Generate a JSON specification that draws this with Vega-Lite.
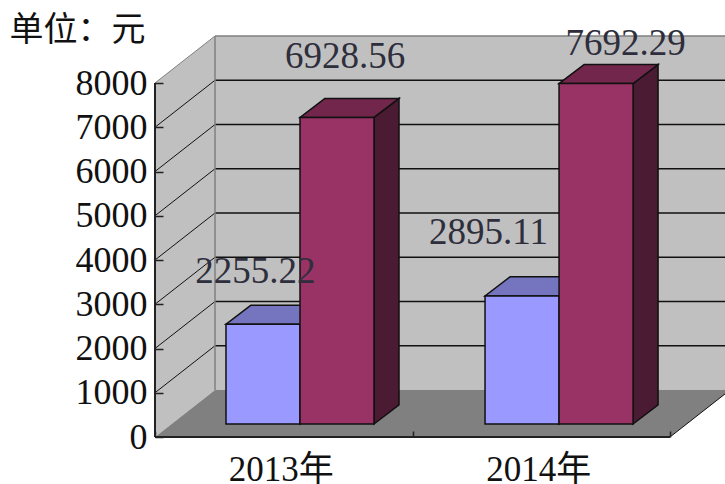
{
"$schema":"https://vega.github.io/schema/vega-lite/v6.json",
"width":725,"height":484,"padding":0,"autosize":{"type":"none"},
"background":"white",
"config":{"view":{"stroke":null},"text":{"font":"Liberation Serif","fontSize":37,"color":"#2E2E3C"}},
"datasets":{
"bars":[
{"cat":0,"s":0,"year":"2013年","series":"A","value":2255.22},
{"cat":0,"s":1,"year":"2013年","series":"B","value":6928.56},
{"cat":1,"s":0,"year":"2014年","series":"A","value":2895.11},
{"cat":1,"s":1,"year":"2014年","series":"B","value":7692.29}],
"grid":[{"v":1000},{"v":2000},{"v":3000},{"v":4000},{"v":5000},{"v":6000},{"v":7000}],
"one":[{"name":"wall"}]
},
"encoding":{
"x":{"field":"x","type":"quantitative","scale":{"domain":[-0.60194,2.21359],"nice":false,"zero":false},
"axis":{"title":null,"orient":"bottom","offset":-47,"zindex":1,"domain":false,"grid":false,"values":[0,0.5,1,1.5,2],
"labelExpr":"datum.value==0.5?'2013年':datum.value==1.5?'2014年':''","labelFont":"Liberation Serif, Noto Sans CJK SC","labelFontSize":35,"labelColor":"#111111","labelPadding":21,"labelOffset":-3,"labelOverlap":false,"labelFlush":false,
"tickSize":-6,"tickColor":"#222222","tickWidth":1.5,"tickOpacity":{"condition":{"test":"datum.value==0.5||datum.value==1.5","value":0},"value":1}}},
"y":{"field":"y","type":"quantitative","scale":{"domain":[-1062,9876],"nice":false,"zero":false},
"axis":{"orient":"left","offset":-155,"zindex":1,"domain":false,"grid":false,"values":[0,1000,2000,3000,4000,5000,6000,7000,8000],"format":"d",
"labelFont":"Liberation Serif","labelFontSize":36,"labelColor":"#111111","labelPadding":16,
"tickSize":-8,"tickColor":"#222222","tickWidth":1.5,
"title":"单位：元","titleFont":"Noto Sans CJK SC","titleFontSize":34,"titleFontWeight":"normal","titleColor":"#111111","titleAngle":0,"titleX":-146,"titleY":30,"titleAlign":"left","titleBaseline":"middle"}}
},
"layer":[
{"data":{"name":"one"},"transform":[{"calculate":"0.233","as":"x"},{"calculate":"2.233","as":"x2"},{"calculate":"1062","as":"y"},{"calculate":"9062","as":"y2"}],
 "mark":{"type":"rect","fill":"#C0C0C0","clip":true},"encoding":{"x2":{"field":"x2"},"y2":{"field":"y2"}}},
{"data":{"name":"one"},"transform":[{"calculate":"0","as":"t0"},{"calculate":"1","as":"t1"},{"fold":["t0","t1"],"as":["k","t"]},{"calculate":"datum.t*0.233","as":"x"},{"calculate":"datum.t*1062","as":"y"},{"calculate":"8000+datum.t*1062","as":"y2"}],
 "mark":{"type":"area","fill":"#C0C0C0"},"encoding":{"y2":{"field":"y2"}}},
{"data":{"name":"grid"},"transform":[{"calculate":"0.233","as":"x"},{"calculate":"2.233","as":"x2"},{"calculate":"datum.v+1062","as":"y"}],
 "mark":{"type":"rule","stroke":"#111111","strokeWidth":1.5},"encoding":{"x2":{"field":"x2"}}},
{"data":{"name":"grid"},"transform":[{"calculate":"0","as":"x"},{"calculate":"0.233","as":"x2"},{"calculate":"datum.v","as":"y"},{"calculate":"datum.v+1062","as":"y2"}],
 "mark":{"type":"rule","stroke":"#111111","strokeWidth":1},"encoding":{"x2":{"field":"x2"},"y2":{"field":"y2"}}},
{"data":{"name":"one"},"transform":[{"calculate":"0.233","as":"x"},{"calculate":"0.233","as":"x2"},{"calculate":"1062","as":"y"},{"calculate":"9062","as":"y2"}],
 "mark":{"type":"rule","stroke":"#808080","strokeWidth":1.5},"encoding":{"x2":{"field":"x2"},"y2":{"field":"y2"}}},
{"data":{"name":"one"},"transform":[{"calculate":"0.233","as":"x"},{"calculate":"2.233","as":"x2"},{"calculate":"9062","as":"y"}],
 "mark":{"type":"rule","stroke":"#808080","strokeWidth":1.5},"encoding":{"x2":{"field":"x2"}}},
{"data":{"name":"one"},"transform":[{"calculate":"0","as":"x"},{"calculate":"0.233","as":"x2"},{"calculate":"8000","as":"y"},{"calculate":"9062","as":"y2"}],
 "mark":{"type":"rule","stroke":"#808080","strokeWidth":1},"encoding":{"x2":{"field":"x2"},"y2":{"field":"y2"}}},
{"data":{"name":"one"},"transform":[{"calculate":"0","as":"t0"},{"calculate":"1","as":"t1"},{"fold":["t0","t1"],"as":["k","t"]},{"calculate":"datum.t*0.233","as":"x"},{"calculate":"2+datum.t*0.233","as":"x2"},{"calculate":"datum.t*1062","as":"y"}],
 "mark":{"type":"area","orient":"horizontal","fill":"#808080"},"encoding":{"x2":{"field":"x2"}}},
{"data":{"name":"one"},"transform":[{"calculate":"2","as":"x"},{"calculate":"2.233","as":"x2"},{"calculate":"0","as":"y"},{"calculate":"1062","as":"y2"}],
 "mark":{"type":"rule","stroke":"#111111","strokeWidth":1},"encoding":{"x2":{"field":"x2"},"y2":{"field":"y2"}}},
{"data":{"name":"one"},"transform":[{"calculate":"0","as":"x"},{"calculate":"2","as":"x2"},{"calculate":"0","as":"y"}],
 "mark":{"type":"rule","stroke":"#222222","strokeWidth":2},"encoding":{"x2":{"field":"x2"}}},
{"data":{"name":"one"},"transform":[{"calculate":"0","as":"x"},{"calculate":"0","as":"y"},{"calculate":"8000","as":"y2"}],
 "mark":{"type":"rule","stroke":"#222222","strokeWidth":2},"encoding":{"y2":{"field":"y2"}}},
{"data":{"name":"bars"},"transform":[{"calculate":"0","as":"t0"},{"calculate":"1","as":"t1"},{"fold":["t0","t1"],"as":["k","t"]},
 {"calculate":"datum.cat*1.006+0.2757+(datum.s+1)*0.2874+datum.t*0.0971","as":"x"},{"calculate":"294+datum.t*430","as":"y"},{"calculate":"datum.value+294+datum.t*430","as":"y2"},{"calculate":"datum.series+'-side'","as":"face"}],
 "mark":{"type":"area","stroke":"#111111","strokeWidth":1.5},
 "encoding":{"y2":{"field":"y2"},"detail":{"field":"year"},"fill":{"field":"face","scale":{"domain":["A-front","A-top","A-side","B-front","B-top","B-side"],"range":["#9999FF","#7575BF","#4C4C80","#993366","#72264C","#4B1A33"]},"legend":null}}},
{"data":{"name":"bars"},"transform":[{"calculate":"0","as":"t0"},{"calculate":"1","as":"t1"},{"fold":["t0","t1"],"as":["k","t"]},
 {"calculate":"datum.cat*1.006+0.2757+datum.s*0.2874+datum.t*0.0971","as":"x"},{"calculate":"datum.x+0.2874","as":"x2"},{"calculate":"datum.value+294+datum.t*430","as":"y"},{"calculate":"datum.series+'-top'","as":"face"}],
 "mark":{"type":"area","orient":"horizontal","stroke":"#111111","strokeWidth":1.5},
 "encoding":{"x2":{"field":"x2"},"detail":{"field":"year"},"fill":{"field":"face","legend":null}}},
{"data":{"name":"bars"},"transform":[
 {"calculate":"datum.cat*1.006+0.2757+datum.s*0.2874","as":"x"},{"calculate":"datum.x+0.2874","as":"x2"},{"calculate":"294","as":"y"},{"calculate":"datum.value+294","as":"y2"},{"calculate":"datum.series+'-front'","as":"face"}],
 "mark":{"type":"rect","stroke":"#111111","strokeWidth":1.5},
 "encoding":{"x2":{"field":"x2"},"y2":{"field":"y2"},"fill":{"field":"face","legend":null}}},
{"data":{"name":"bars"},"transform":[{"filter":"datum.cat==0&&datum.s==0"},{"calculate":"datum.cat+0.4194+datum.s*0.2874","as":"x"},{"calculate":"datum.value+294","as":"y"}],
 "mark":{"type":"text","dx":-7.5,"dy":-52,"baseline":"middle","align":"center"},"encoding":{"text":{"field":"value","format":".2f"}}},
{"data":{"name":"bars"},"transform":[{"filter":"datum.cat==0&&datum.s==1"},{"calculate":"datum.cat+0.4194+datum.s*0.2874","as":"x"},{"calculate":"datum.value+294","as":"y"}],
 "mark":{"type":"text","dx":8,"dy":-60,"baseline":"middle","align":"center"},"encoding":{"text":{"field":"value","format":".2f"}}},
{"data":{"name":"bars"},"transform":[{"filter":"datum.cat==1&&datum.s==0"},{"calculate":"datum.cat+0.4194+datum.s*0.2874","as":"x"},{"calculate":"datum.value+294","as":"y"}],
 "mark":{"type":"text","dx":-32,"dy":-63,"baseline":"middle","align":"center"},"encoding":{"text":{"field":"value","format":".2f"}}},
{"data":{"name":"bars"},"transform":[{"filter":"datum.cat==1&&datum.s==1"},{"calculate":"datum.cat+0.4194+datum.s*0.2874","as":"x"},{"calculate":"datum.value+294","as":"y"}],
 "mark":{"type":"text","dx":31,"dy":-40,"baseline":"middle","align":"center"},"encoding":{"text":{"field":"value","format":".2f"}}}
]
}
